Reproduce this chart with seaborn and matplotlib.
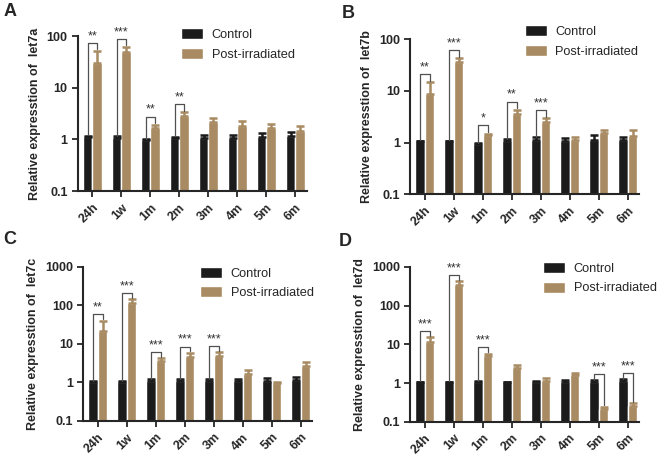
import numpy as np
import pandas as pd
import matplotlib.pyplot as plt
import seaborn as sns

times = ['24h', '1w', '1m', '2m', '3m', '4m', '5m', '6m']
groups = ['Control', 'Post-irradiated']

let7a_ctrl = [1.1, 1.08, 0.97, 1.06, 1.08, 1.07, 1.1, 1.15]
let7a_ctrl_err = [0.07, 0.06, 0.03, 0.05, 0.15, 0.14, 0.22, 0.22]
let7a_post = [30, 49, 1.66, 2.8, 2.15, 1.78, 1.65, 1.45]
let7a_post_err = [21, 12, 0.25, 0.55, 0.42, 0.45, 0.33, 0.38]
let7a_sig = ['**', '***', '**', '**', '', '', '', '']

let7b_ctrl = [1.05, 1.05, 0.92, 1.08, 1.1, 1.08, 1.14, 1.1]
let7b_ctrl_err = [0.04, 0.03, 0.04, 0.08, 0.17, 0.17, 0.25, 0.2]
let7b_post = [8.7, 36, 1.42, 3.6, 2.45, 1.1, 1.56, 1.33]
let7b_post_err = [6, 6.5, 0.06, 0.7, 0.5, 0.2, 0.18, 0.45]
let7b_sig = ['**', '***', '*', '**', '***', '', '', '']

let7c_ctrl = [1.05, 1.04, 1.07, 1.07, 1.07, 1.07, 1.07, 1.12]
let7c_ctrl_err = [0.03, 0.03, 0.15, 0.12, 0.15, 0.15, 0.22, 0.3]
let7c_post = [21, 115, 3.65, 4.7, 4.9, 1.67, 0.95, 2.7]
let7c_post_err = [19, 32, 0.65, 1.2, 1.2, 0.4, 0.07, 0.7]
let7c_sig = ['**', '***', '***', '***', '***', '', '', '']

let7d_ctrl = [1.05, 1.05, 1.07, 1.06, 1.05, 1.07, 1.07, 1.1]
let7d_ctrl_err = [0.03, 0.03, 0.05, 0.03, 0.05, 0.13, 0.1, 0.17]
let7d_post = [11.8, 350, 4.9, 2.4, 1.15, 1.6, 0.21, 0.26]
let7d_post_err = [3.8, 85, 0.9, 0.55, 0.2, 0.2, 0.035, 0.04]
let7d_sig = ['***', '***', '***', '', '', '', '***', '***']

CTRL_COLOR = '#1b1b1b'
POST_COLOR = '#a88b62'

sns.set_style('ticks')
plt.rcParams['font.family'] = ['Liberation Sans', 'DejaVu Sans']


def draw_panel(ax, name, ctrl, ctrl_err, post, post_err, sig, ytop, legend_xy):
    df = pd.DataFrame({
        'time': times * 2,
        'group': [groups[0]] * len(times) + [groups[1]] * len(times),
        'value': ctrl + post,
    })
    sns.barplot(data=df, x='time', y='value', hue='group', hue_order=groups,
                palette=[CTRL_COLOR, POST_COLOR], width=0.66, errorbar=None,
                saturation=1, ax=ax)
    ax.set_yscale('log')
    ax.set_ylim(0.1, ytop)
    ax.set_xlim(-0.5, 7.4)

    # one-sided error bars on top of each bar
    xc = np.array([p.get_x() + p.get_width() / 2 for p in ax.containers[0]])
    xp = np.array([p.get_x() + p.get_width() / 2 for p in ax.containers[1]])
    for xs, vals, errs, col in [(xc, ctrl, ctrl_err, CTRL_COLOR), (xp, post, post_err, POST_COLOR)]:
        ax.errorbar(xs, vals, yerr=[np.zeros(len(vals)), errs], fmt='none',
                    ecolor=col, elinewidth=1.8, capsize=3, capthick=1.8, zorder=3)

    # significance brackets
    for i, s in enumerate(sig):
        if not s:
            continue
        c_top = ctrl[i] + ctrl_err[i]
        p_top = post[i] + post_err[i]
        yb = max(c_top, p_top) * 1.45
        ax.plot([xc[i], xc[i], xp[i], xp[i]], [c_top * 1.03, yb, yb, p_top * 1.08],
                color='#505050', lw=0.9, zorder=4)
        ax.text((xc[i] + xp[i]) / 2, yb * 1.04, s, ha='center', va='bottom',
                fontsize=9, color='#333333')

    ax.set_yticks([10.0 ** k for k in range(-1, int(np.log10(ytop)) + 1)])
    ax.set_yticklabels([('%g' % (10.0 ** k)) for k in range(-1, int(np.log10(ytop)) + 1)])
    ax.minorticks_off()
    ax.tick_params(axis='both', width=1.3, length=4, labelsize=9)
    for lab in ax.get_xticklabels() + ax.get_yticklabels():
        lab.set_fontweight('bold')
    plt.setp(ax.get_xticklabels(), rotation=45, ha='right', rotation_mode='anchor')
    ax.set_xlabel('')
    ax.set_ylabel('Relative expresstion of  ' + name, fontsize=9, fontweight='bold')
    for sp in ['left', 'bottom']:
        ax.spines[sp].set_linewidth(1.5)
    sns.despine(ax=ax)

    handles, labels = ax.get_legend_handles_labels()
    ax.legend(handles, labels, loc='upper left', bbox_to_anchor=legend_xy,
              frameon=False, fontsize=9.2, handlelength=1.7, handleheight=0.95,
              handletextpad=0.7, labelspacing=0.5, borderpad=0, borderaxespad=0)


fig = plt.figure(figsize=(6.66, 4.57), dpi=100)
axA = fig.add_axes([0.117, 0.582, 0.344, 0.339])
axB = fig.add_axes([0.616, 0.575, 0.344, 0.339])
axC = fig.add_axes([0.125, 0.079, 0.344, 0.337])
axD = fig.add_axes([0.616, 0.077, 0.344, 0.339])

draw_panel(axA, 'let7a', let7a_ctrl, let7a_ctrl_err, let7a_post, let7a_post_err, let7a_sig, 100, (0.45, 1.05))
draw_panel(axB, 'let7b', let7b_ctrl, let7b_ctrl_err, let7b_post, let7b_post_err, let7b_sig, 100, (0.50, 1.09))
draw_panel(axC, 'let7c', let7c_ctrl, let7c_ctrl_err, let7c_post, let7c_post_err, let7c_sig, 1000, (0.51, 1.0))
draw_panel(axD, 'let7d', let7d_ctrl, let7d_ctrl_err, let7d_post, let7d_post_err, let7d_sig, 1000, (0.58, 1.03))

for lbl, x, y in [('A', 10, 12), ('B', 348, 14), ('C', 10, 240), ('D', 345, 242)]:
    fig.text(x / 666, 1 - y / 457, lbl, fontsize=13, fontweight='bold', ha='center', va='center')

fig.savefig('out.png', dpi=100)
